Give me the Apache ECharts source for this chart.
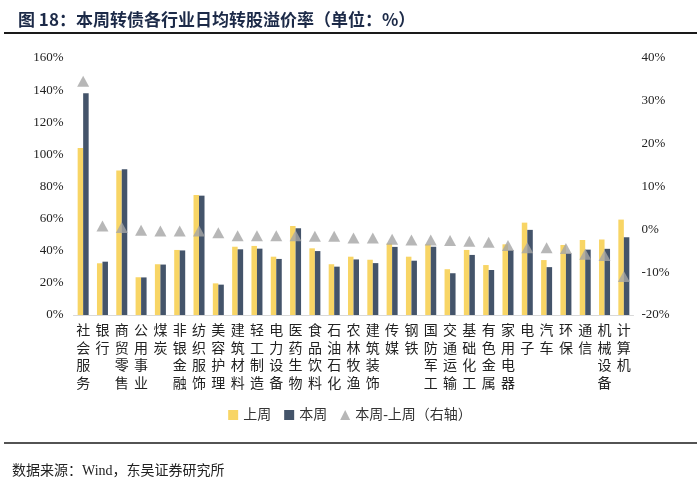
<!DOCTYPE html>
<html><head><meta charset="utf-8">
<script src="https://cdn.jsdelivr.net/npm/echarts@6/dist/echarts.min.js"></script>
<style>html,body{margin:0;padding:0;background:#fff}#c{width:700px;height:485px}</style>
</head><body><div id="c"></div>
<script>
const categories = ['社会服务','银行','商贸零售','公用事业','煤炭','非银金融','纺织服饰','美容护理','建筑材料','轻工制造','电力设备','医药生物','食品饮料','石油石化','农林牧渔','建筑装饰','传媒','钢铁','国防军工','交通运输','基础化工','有色金属','家用电器','电子','汽车','环保','通信','机械设备','计算机'];
const lastWeek = [104,32.2,90,23.5,31.6,40.5,74.7,19.7,42.5,43,36.3,55.4,41.5,31.6,36.3,34.4,44.5,36.3,44,28.5,40.5,31.1,44,57.5,34.2,43.6,46.7,47,59.4];
const thisWeek = [138,33.2,90.7,23.4,31.4,40.2,74.3,18.9,40.9,41.3,34.9,54,39.8,30.1,34.6,32.3,42.4,33.8,42.5,26,37.4,28,40.4,53,29.8,38.4,40.7,41.2,48.4];
const diff = [34.6,0.8,0.4,-0.2,-0.4,-0.4,-0.4,-0.8,-1.5,-1.5,-1.5,-1.5,-1.6,-1.6,-2.0,-2.0,-2.3,-2.5,-2.5,-2.6,-2.8,-3.0,-3.8,-4.3,-4.3,-4.5,-5.8,-6.1,-11];
const leftTicks = {min:0,max:160,interval:20};
const rightTicks = {min:-20,max:40,interval:10};
const seriesNames = ['上周','本周','本周-上周（右轴）'];

const serif = '"Liberation Serif","Noto Sans CJK SC",serif';
const chart = echarts.init(document.getElementById('c'));
chart.setOption({
  animation:false,
  title:{text:'图 18：本周转债各行业日均转股溢价率（单位：%）',left:13,top:6,
    textStyle:{fontSize:17,fontWeight:'bold',color:'#1c2a48',fontFamily:'"Noto Sans CJK SC",sans-serif'}},
  graphic:[
    {type:'line',shape:{x1:4,y1:33,x2:697,y2:33},style:{stroke:'#1a1a1a',lineWidth:2}},
    {type:'line',shape:{x1:4,y1:443,x2:697,y2:443},style:{stroke:'#1a1a1a',lineWidth:1.5}},
    {type:'text',left:12,top:464,style:{text:'数据来源：Wind，东吴证券研究所',font:'14px '+serif,fill:'#222'}}
  ],
  legend:{top:403,left:'center',itemWidth:10,itemHeight:10,itemGap:13,
    textStyle:{fontSize:14,fontFamily:serif,color:'#333'},
    data:[{name:seriesNames[0],icon:'rect'},{name:seriesNames[1],icon:'rect'},{name:seriesNames[2],icon:'triangle'}]},
  grid:{left:73.5,right:66.5,top:58,bottom:170},
  xAxis:{type:'category',data:categories,
    axisLine:{lineStyle:{color:'#d9d9d9',width:1}},axisTick:{show:false},
    axisLabel:{interval:0,margin:8,fontSize:14,lineHeight:17.5,color:'#222',fontFamily:serif,
      formatter:v=>v.split('').join('\n')}},
  yAxis:[
    {type:'value',min:leftTicks.min,max:leftTicks.max,interval:leftTicks.interval,
     splitLine:{show:false},axisLine:{show:false},axisTick:{show:false},
     axisLabel:{formatter:'{value}%',fontSize:13,color:'#222',fontFamily:serif,margin:10}},
    {type:'value',min:rightTicks.min,max:rightTicks.max,interval:rightTicks.interval,
     splitLine:{show:false},axisLine:{show:false},axisTick:{show:false},
     axisLabel:{formatter:'{value}%',fontSize:13,color:'#222',fontFamily:serif,margin:8}}
  ],
  series:[
    {name:seriesNames[0],type:'bar',data:lastWeek,barWidth:5.5,barGap:'0%',itemStyle:{color:'#F8D565'}},
    {name:seriesNames[1],type:'bar',data:thisWeek,barWidth:5.5,barGap:'0%',itemStyle:{color:'#44546A'}},
    {name:seriesNames[2],type:'scatter',yAxisIndex:1,data:diff,symbol:'triangle',symbolSize:[12,11],z:5,
     itemStyle:{color:'#A5A5A5'}}
  ]
});
</script></body></html>
